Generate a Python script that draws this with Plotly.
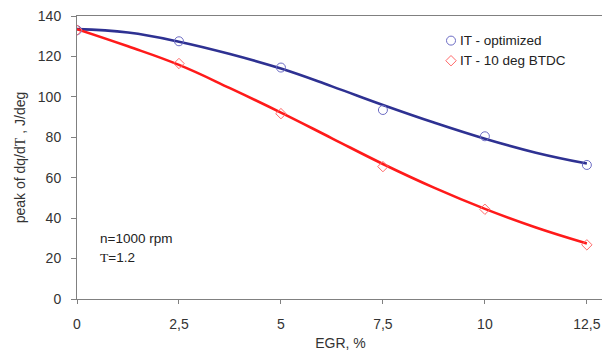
import plotly.graph_objects as go

# measured points
egr = [0, 2.5, 5, 7.5, 10, 12.5]
it_optimized = [133, 127.5, 114.5, 93.5, 80.5, 66.3]
it_10deg = [133, 116.5, 91.7, 65.5, 44.4, 26.8]

# trend curves
egr_trend = [0, 1.25, 2.5, 3.75, 5, 6.25, 7.5, 8.75, 10, 11.25, 12.5]
trend_optimized = [133.5, 131.8, 127.3, 121.2, 114, 105.2, 96, 87.3, 79.3, 72.4, 67]
trend_10deg = [133.5, 125, 115.8, 104.3, 92.2, 79.5, 66.8, 55.1, 44.6, 35.4, 27.5]

series_names = ["IT - optimized", "IT - 10 deg BTDC"]
x_ticks = [0, 2.5, 5, 7.5, 10, 12.5]
x_ticklabels = ["0", "2,5", "5", "7,5", "10", "12,5"]
y_ticks = [0, 20, 40, 60, 80, 100, 120, 140]

font = "Liberation Sans, Arial, sans-serif"
blue_line, red_line = "#2e3192", "#ff1a1a"
blue_mk, red_mk = "#6c6cc4", "#ff6868"

fig = go.Figure()
fig.add_trace(go.Scatter(x=egr_trend, y=trend_optimized, mode="lines",
                         line=dict(color=blue_line, width=2.6, shape="spline", smoothing=1.2),
                         showlegend=False, hoverinfo="skip"))
fig.add_trace(go.Scatter(x=egr_trend, y=trend_10deg, mode="lines",
                         line=dict(color=red_line, width=2.6, shape="spline", smoothing=1.2),
                         showlegend=False, hoverinfo="skip"))
fig.add_trace(go.Scatter(x=egr, y=it_optimized, mode="markers", name=series_names[0], showlegend=False,
                         marker=dict(symbol="circle-open", size=9, color=blue_mk, line=dict(width=1))))
fig.add_trace(go.Scatter(x=egr, y=it_10deg, mode="markers", name=series_names[1], showlegend=False,
                         marker=dict(symbol="diamond-open", size=8, color=red_mk, line=dict(width=1))))

# hand-made legend on an overlay axis spanning the plot area (0..1 both ways)
leg_x = 0.7097
leg_y = [0.913, 0.842]
fig.add_trace(go.Scatter(x=[leg_x], y=[leg_y[0]], xaxis="x2", yaxis="y2", mode="markers", showlegend=False,
                         hoverinfo="skip", marker=dict(symbol="circle-open", size=9, color=blue_mk, line=dict(width=1))))
fig.add_trace(go.Scatter(x=[leg_x], y=[leg_y[1]], xaxis="x2", yaxis="y2", mode="markers", showlegend=False,
                         hoverinfo="skip", marker=dict(symbol="diamond-open", size=8, color=red_mk, line=dict(width=1))))
for name, yy in zip(series_names, leg_y):
    fig.add_annotation(x=leg_x + 0.013, y=yy, xref="x2", yref="y2", text=name, showarrow=False,
                       xanchor="left", yanchor="middle", font=dict(family=font, size=13.5, color="#222"))

fig.add_annotation(x=0.52, y=30, xref="x", yref="y", text="n=1000 rpm", showarrow=False, xanchor="left",
                   font=dict(family=font, size=13.5, color="#222"))
fig.add_annotation(x=0.52, y=20.5, xref="x", yref="y",
                   text="<span style='font-family:Liberation Serif'>T</span>=1.2", showarrow=False,
                   xanchor="left", font=dict(family=font, size=13.5, color="#222"))

# page body adds an 8px offset, so the figure is sized/margined to compensate
fig.update_layout(
    width=602, height=343,
    margin=dict(l=69, r=6, t=8, b=52),
    paper_bgcolor="white", plot_bgcolor="white",
    font=dict(family=font, size=14, color="#333"),
    showlegend=False,
    xaxis=dict(range=[0, 12.92], tickvals=x_ticks, ticktext=x_ticklabels, showgrid=False, zeroline=False,
               showline=True, linecolor="#808080", linewidth=1, mirror=True, ticks="outside", ticklen=4,
               tickcolor="#808080", ticklabelstandoff=8, automargin=False, ticklabeloverflow="allow",
               title=dict(text="EGR, %", font=dict(size=14), standoff=8)),
    yaxis=dict(range=[0, 140], tickvals=y_ticks, showgrid=False, zeroline=False,
               showline=True, linecolor="#808080", linewidth=1, mirror=True, ticks="outside", ticklen=5,
               tickcolor="#808080", ticklabelstandoff=7, automargin=False, ticklabeloverflow="allow",
               title=dict(text="peak of dq/d<span style='font-family:Liberation Serif'>T</span> , J/deg",
                          font=dict(size=14), standoff=8)),
    xaxis2=dict(range=[0, 1], overlaying="x", visible=False, fixedrange=True),
    yaxis2=dict(range=[0, 1], overlaying="y", visible=False, fixedrange=True),
)

fig.write_html("out.html")
